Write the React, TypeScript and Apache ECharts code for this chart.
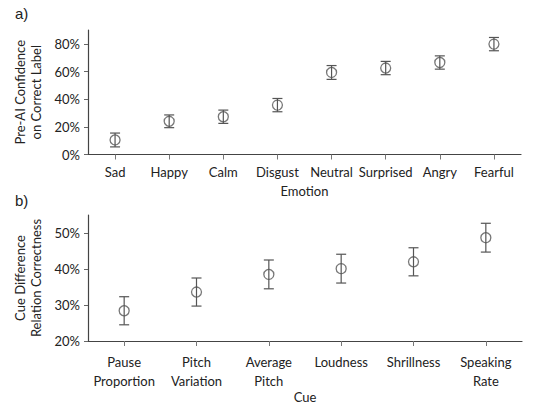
import React, { useEffect, useRef } from "react";
import * as echarts from "echarts";

const emotions = ["Sad", "Happy", "Calm", "Disgust", "Neutral", "Surprised", "Angry", "Fearful"];
const emotionMean = [10.5, 24, 27.3, 35.7, 59.3, 62.5, 66.5, 79.8];
const emotionErr = [5, 4.6, 4.8, 4.8, 5, 4.8, 4.8, 4.8];
const emotionTicks = [0, 20, 40, 60, 80];

const cues = ["Pause\nProportion", "Pitch\nVariation", "Average\nPitch", "Loudness", "Shrillness", "Speaking\nRate"];
const cueMean = [28.4, 33.6, 38.5, 40.1, 42, 48.7];
const cueErr = [3.9, 3.9, 4, 4, 3.9, 4];
const cueTicks = [20, 30, 40, 50];

const FONT = "Lato";
const INK = "#555";

function errItems(mean: number[], err: number[]) {
  return mean.map((m, i) => [i, m - err[i], m + err[i]]);
}

const renderErr = (params: any, api: any) => {
  const x = api.value(0);
  const lo = api.coord([x, api.value(1)]);
  const hi = api.coord([x, api.value(2)]);
  const cap = 5;
  const style = { stroke: INK, lineWidth: 1.2 };
  return {
    type: "group",
    children: [
      { type: "line", shape: { x1: lo[0], y1: lo[1], x2: hi[0], y2: hi[1] }, style },
      { type: "line", shape: { x1: lo[0] - cap, y1: lo[1], x2: lo[0] + cap, y2: lo[1] }, style },
      { type: "line", shape: { x1: hi[0] - cap, y1: hi[1], x2: hi[0] + cap, y2: hi[1] }, style },
    ],
  };
};

export default function App() {
  const ref = useRef<HTMLDivElement>(null);
  useEffect(() => {
    if (!ref.current) return;
    const chart = echarts.init(ref.current, undefined, { renderer: "svg" });
    const axisText = { color: "#222", fontFamily: FONT, fontSize: 13 };
    const yAxisCommon = {
      type: "value",
      nameLocation: "middle",
      nameRotate: 90,
      nameGap: 38,
      nameTextStyle: { ...axisText, fontSize: 13, lineHeight: 16 },
      splitLine: { show: false },
      axisLine: { show: true, lineStyle: { color: "#444", width: 1.2 } },
      axisTick: { show: true, length: 4, lineStyle: { color: "#666" } },
    };
    const xAxisCommon = {
      type: "category",
      nameLocation: "middle",
      nameTextStyle: { ...axisText, fontSize: 13 },
      axisLine: { show: true, lineStyle: { color: "#444", width: 1.2 } },
      axisTick: { show: true, alignWithLabel: true, length: 5, lineStyle: { color: "#777" } },
    };
    chart.setOption({
      animation: false,
      graphic: [
        { type: "text", left: 15, top: 6, style: { text: "a)", fontFamily: "Liberation Sans", fontSize: 15, fill: "#222" } },
        { type: "text", left: 15, top: 193, style: { text: "b)", fontFamily: "Liberation Sans", fontSize: 15, fill: "#222" } },
      ],
      grid: [
        { left: 88, right: 28, top: 30, bottom: 251.5 },
        { left: 88, right: 27, top: 215, bottom: 65 },
      ],
      xAxis: [
        {
          ...xAxisCommon,
          gridIndex: 0,
          data: emotions,
          name: "Emotion",
          nameGap: 30,
          axisLabel: { ...axisText, margin: 11, interval: 0 },
        },
        {
          ...xAxisCommon,
          gridIndex: 1,
          data: cues,
          name: "Cue",
          nameGap: 49,
          axisLabel: { ...axisText, margin: 11, interval: 0, lineHeight: 19 },
        },
      ],
      yAxis: [
        {
          ...yAxisCommon,
          gridIndex: 0,
          min: 0,
          max: 90,
          name: "Pre-AI Confidence\non Correct Label",
          axisLabel: { ...axisText, customValues: emotionTicks, formatter: "{value}%" },
          axisTick: { ...yAxisCommon.axisTick, customValues: emotionTicks },
        },
        {
          ...yAxisCommon,
          gridIndex: 1,
          min: 20,
          max: 55,
          name: "Cue Difference\nRelation Correctness",
          axisLabel: { ...axisText, customValues: cueTicks, formatter: "{value}%" },
          axisTick: { ...yAxisCommon.axisTick, customValues: cueTicks },
        },
      ],
      series: [
        {
          type: "custom",
          xAxisIndex: 0,
          yAxisIndex: 0,
          renderItem: renderErr,
          data: errItems(emotionMean, emotionErr),
          z: 3,
        },
        {
          type: "scatter",
          xAxisIndex: 0,
          yAxisIndex: 0,
          symbol: "circle",
          symbolSize: 10,
          itemStyle: { color: "rgba(0,0,0,0)", borderColor: INK, borderWidth: 1.3 },
          data: emotionMean,
          z: 4,
        },
        {
          type: "custom",
          xAxisIndex: 1,
          yAxisIndex: 1,
          renderItem: renderErr,
          data: errItems(cueMean, cueErr),
          z: 3,
        },
        {
          type: "scatter",
          xAxisIndex: 1,
          yAxisIndex: 1,
          symbol: "circle",
          symbolSize: 10,
          itemStyle: { color: "rgba(0,0,0,0)", borderColor: INK, borderWidth: 1.3 },
          data: cueMean,
          z: 4,
        },
      ],
    });
    return () => chart.dispose();
  }, []);
  return <div ref={ref} style={{ width: 549, height: 406, position: "absolute", left: 0, top: 0 }} />;
}
